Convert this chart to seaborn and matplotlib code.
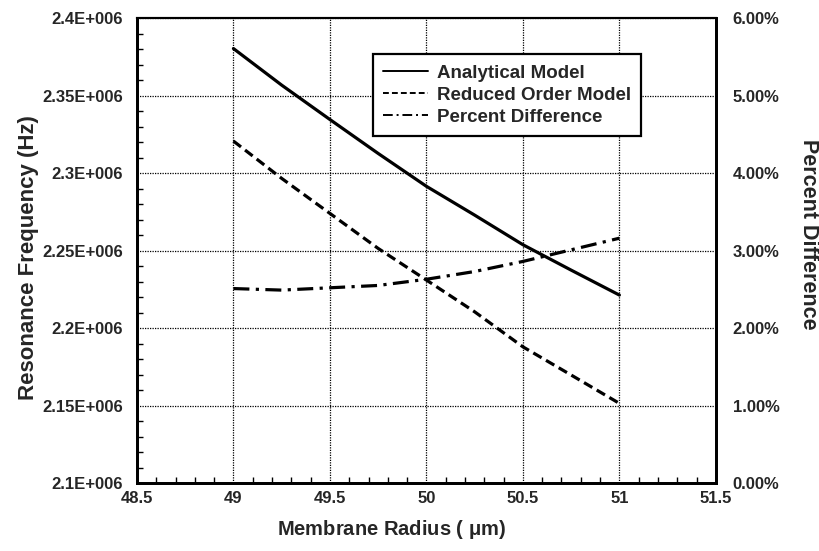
import matplotlib
matplotlib.use("Agg")
import matplotlib.pyplot as plt
from matplotlib.ticker import MultipleLocator, FuncFormatter
import seaborn as sns
import pandas as pd

# Membrane radius (µm) and the resonance frequency from both models
radius = [49.0, 49.25, 49.5, 49.75, 50.0, 50.25, 50.5, 50.75, 51.0]
analytical_hz = [2.3804e6, 2.3568e6, 2.3346e6, 2.3127e6, 2.2915e6,
                 2.2729e6, 2.2538e6, 2.2374e6, 2.2213e6]
reduced_hz = [2.3207e6, 2.2966e6, 2.2740e6, 2.2514e6, 2.2310e6,
              2.2105e6, 2.1879e6, 2.1697e6, 2.1514e6]
percent_diff = [2.51, 2.49, 2.52, 2.55, 2.63, 2.73, 2.86, 3.01, 3.16]

x_ticks = [48.5, 49, 49.5, 50, 50.5, 51, 51.5]
y_ticks = [2.1e6, 2.15e6, 2.2e6, 2.25e6, 2.3e6, 2.35e6, 2.4e6]
pct_ticks = [0, 1, 2, 3, 4, 5, 6]

df = pd.DataFrame({"radius": radius, "analytical": analytical_hz,
                   "reduced": reduced_hz, "pct": percent_diff})

sns.set_style("ticks")
plt.rcParams["font.family"] = ["Liberation Sans", "DejaVu Sans"]
plt.rcParams["font.weight"] = "bold"
plt.rcParams["mathtext.default"] = "regular"

fig = plt.figure(figsize=(8.2, 5.51), dpi=100)
ax = fig.add_axes([0.167, 0.1234, 0.706, 0.8436])
ax2 = ax.twinx()

lw = 2.3
sns.lineplot(data=df, x="radius", y="analytical", ax=ax, color="black",
             linewidth=lw, label="Analytical Model", legend=False)
sns.lineplot(data=df, x="radius", y="reduced", ax=ax, color="black",
             linewidth=lw, linestyle=(0, (3, 1.6)),
             label="Reduced Order Model", legend=False)
sns.lineplot(data=df, x="radius", y="pct", ax=ax2, color="black",
             linewidth=lw, linestyle=(0, (5, 2, 1, 2)),
             label="Percent Difference", legend=False)

ax.set_xlim(x_ticks[0], x_ticks[-1])
ax.set_ylim(y_ticks[0], y_ticks[-1])
ax2.set_ylim(pct_ticks[0], pct_ticks[-1])
ax.set_xticks(x_ticks)
ax.set_yticks(y_ticks)
ax2.set_yticks(pct_ticks)
ax.xaxis.set_minor_locator(MultipleLocator(0.1))
ax.yaxis.set_minor_locator(MultipleLocator(0.01e6))

ax.set_xticklabels([f"{v:g}" for v in x_ticks])
ax.yaxis.set_major_formatter(FuncFormatter(
    lambda v, p: f"{v / 1e6:g}E+006"))
ax2.yaxis.set_major_formatter(FuncFormatter(lambda v, p: f"{v:.2f}%"))

ax.grid(True, which="major", color="black", linestyle=(0, (1, 1)),
        linewidth=0.9)
ax.tick_params(which="both", direction="in", color="black",
               labelsize=12, width=1)
ax.tick_params(which="major", length=0)
ax.tick_params(which="minor", length=4)
ax.tick_params(axis="x", pad=6)
ax.tick_params(axis="y", pad=10)
ax2.tick_params(axis="y", length=0, labelsize=12, pad=12)

for a in (ax, ax2):
    for s in a.spines.values():
        s.set_color("black")
        s.set_linewidth(2)
    a.spines["top"].set_linewidth(1.5)

for lab in ax.get_xticklabels() + ax.get_yticklabels() + ax2.get_yticklabels():
    lab.set_fontweight("bold")

ax.set_xlabel(r"Membrane Radius ( $\mu$m)", fontsize=14.5, fontweight="bold")
ax.xaxis.set_label_coords(0.44, -0.075)
ax.set_ylabel("Resonance Frequency (Hz)", fontsize=16, fontweight="bold")
ax.yaxis.set_label_coords(-0.17, 0.486)
ax2.set_ylabel("Percent Difference", fontsize=15.5, fontweight="bold",
               rotation=270, va="center")
ax2.yaxis.set_label_coords(1.16, 0.535)

h1, l1 = ax.get_legend_handles_labels()
h2, l2 = ax2.get_legend_handles_labels()
leg = ax2.legend(h1 + h2, l1 + l2, loc="upper left",
                 bbox_to_anchor=(0.408, 0.922), frameon=True, fancybox=False,
                 framealpha=1, edgecolor="black", handlelength=2.4,
                 handletextpad=0.45, borderpad=0.55, labelspacing=0.25,
                 borderaxespad=0,
                 prop={"weight": "bold", "size": 13.5})
leg.get_frame().set_linewidth(1.6)
for ln in leg.get_lines():
    ln.set_linewidth(1.4)

fig.savefig("out.png", dpi=100)
